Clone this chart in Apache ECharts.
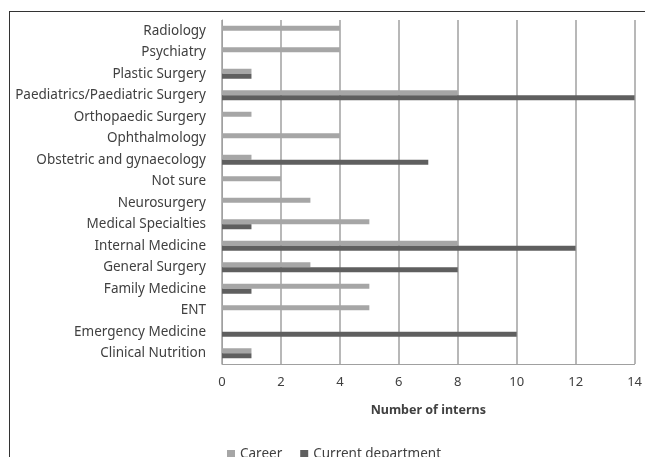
<!DOCTYPE html>
<html>
<head>
<meta charset="utf-8">
<script src="https://cdn.jsdelivr.net/npm/echarts@6/dist/echarts.min.js"></script>
<style>
  html, body { margin: 0; padding: 0; background: #fff; }
  #chart { width: 645px; height: 457px; }
</style>
</head>
<body>
<div id="chart"></div>
<script>
// departments, top to bottom as in the picture
const departments = [
  'Radiology', 'Psychiatry', 'Plastic Surgery', 'Paediatrics/Paediatric Surgery',
  'Orthopaedic Surgery', 'Ophthalmology', 'Obstetric and gynaecology', 'Not sure',
  'Neurosurgery', 'Medical Specialties', 'Internal Medicine', 'General Surgery',
  'Family Medicine', 'ENT', 'Emergency Medicine', 'Clinical Nutrition'
]
const careerValues = [4, 4, 1, 8, 1, 4, 1, 2, 3, 5, 8, 3, 5, 5, 0, 1]
const currentValues = [0, 0, 1, 14, 0, 0, 7, 0, 0, 1, 12, 8, 1, 0, 10, 1]
const seriesNames = ['Career', 'Current department']
const xTicks = [0, 2, 4, 6, 8, 10, 12, 14]

const chart = echarts.init(document.getElementById('chart'))
const font = 'Noto Sans'

const option = {
  animation: false,
  textStyle: { fontFamily: font },
  // outer frame (left and top edges of the original box)
  graphic: [
    { type: 'line', shape: { x1: 9.5, y1: 11, x2: 9.5, y2: 457 }, style: { stroke: '#333', lineWidth: 1 } },
    { type: 'line', shape: { x1: 9, y1: 11.5, x2: 645, y2: 11.5 }, style: { stroke: '#333', lineWidth: 1 } }
  ],
  grid: { left: 222, right: 9, top: 20, bottom: 93 },
  legend: {
    data: seriesNames,
    left: 222,
    top: 442,
    itemWidth: 8,
    itemHeight: 8,
    itemGap: 18,
    icon: 'rect',
    textStyle: { color: '#404040', fontSize: 13.5, fontFamily: font }
  },
  xAxis: {
    type: 'value',
    min: xTicks[0],
    max: xTicks[xTicks.length - 1],
    interval: 2,
    name: 'Number of interns',
    nameLocation: 'middle',
    nameGap: 40,
    nameTextStyle: { color: '#404040', fontSize: 12.5, fontWeight: 'bold', fontFamily: font },
    axisLine: { show: true, lineStyle: { color: '#a0a0a0' } },
    axisTick: { show: false },
    axisLabel: { color: '#404040', fontSize: 13, margin: 12 },
    splitLine: { show: true, lineStyle: { color: '#a0a0a0', width: 1.5 } }
  },
  yAxis: {
    type: 'category',
    data: departments,
    inverse: true,
    axisLine: { show: true, lineStyle: { color: '#a0a0a0' } },
    axisTick: { show: false },
    axisLabel: { color: '#404040', fontSize: 13.5, margin: 16 }
  },
  series: [
    {
      name: seriesNames[0],
      type: 'bar',
      data: careerValues,
      barWidth: 5,
      barGap: '0%',
      itemStyle: { color: '#a6a6a6' }
    },
    {
      name: seriesNames[1],
      type: 'bar',
      data: currentValues,
      barWidth: 5,
      barGap: '0%',
      itemStyle: { color: '#5f5f5f' }
    }
  ]
}
chart.setOption(option)
</script>
</body>
</html>
